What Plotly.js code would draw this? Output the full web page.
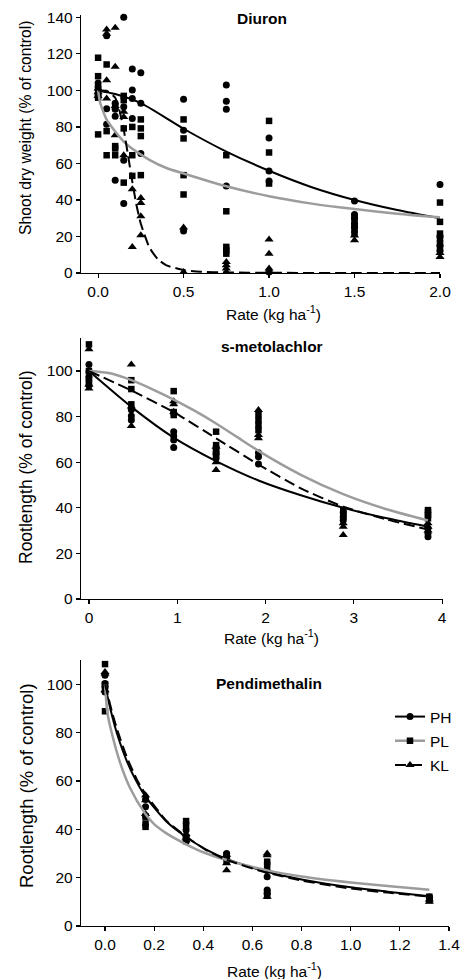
<!DOCTYPE html>
<html><head><meta charset="utf-8">
<script src="https://cdn.plot.ly/plotly-3.0.1.min.js"></script>
<style>html,body{margin:0;padding:0;background:#fff}#chart{width:475px;height:979px}</style>
</head><body><div id="chart"></div>
<script>
// ---------- Diuron ----------
const diuronRates = [0, 0.05, 0.1, 0.15, 0.2, 0.25, 0.5, 0.75, 1.0, 1.5, 2.0];
const diuronPH = [[104,102,96.5,98],[130,90,81.5],[89.7,85.9,50.8,93],[140,61.8,38,91],[111.7,100.2,95.6,84.6],[109.7,92.9,65.4],[95.2,78.2,23],[102.9,94.1,89.7,47.7],[74,55.8,50.4,0.5],[39.5,32,30,27,25],[48.5,20,15,12]];
const diuronPL = [[117.9,107.8,100,96,75.9],[114.2,77.7,64.5],[69.5,68.2,64.5,91],[97,94.7,79.2,49.5],[80,64.5,53.2],[84.1,79.2,75,53.6],[84.1,73.7,53.6,43],[64.5,33.8,14.3,12.4,10.6],[83.3,66,49],[31,28.5,26,23.5,21.5],[38.6,28,21.6,18.8,16.1,13.4]];
const diuronKL = [[101,99,97],[133.4,131,105.6,95.6],[134.3,113,91.4,75.5],[88.3,85.5,64.5],[45.9,14.3],[41.1,38.4,31.1,20.7],[24.9,0.5],[6,4.2,2.4,0.5],[18.3,10.6,2.4,1],[18,20.5],[8.8,11]];
const diuronPHfitX = [0,0.1,0.25,0.5,0.75,1.0,1.25,1.5,1.75,2.0];
const diuronPHfitY = [100,98,93,79,66.5,56,47,40,34.5,30];
const diuronPLfitX = [0,0.01,0.02,0.05,0.1,0.15,0.2,0.3,0.4,0.5,0.75,1.0,1.25,1.5,1.75,2.0];
const diuronPLfitY = [100,94,91,84,77.5,72,68,62,57.5,54.5,47.5,42,38,35,32.5,30.5];
const diuronKLfitX = [0,0.05,0.1,0.125,0.15,0.175,0.2,0.225,0.25,0.3,0.35,0.4,0.5,0.6,0.75,1.0,1.5,2.0];
const diuronKLfitY = [100,99.8,96,89,78.5,64.5,50,37,27,14,7.5,4.2,1.6,0.7,0.3,0.1,0,0];

// ---------- s-metolachlor ----------
const smetRates = [0, 0.48, 0.96, 1.44, 1.92, 2.88, 3.84];
const smetPH = [[102.9,99.7,97.5,93.8],[80.3,78.5,83],[73.4,71.5,69.7,66.5],[63.2,61.7,64],[64.2,62.4,59.2],[34.6,36,38],[31,28.8,27.3]];
const smetPL = [[111.7,96.4,95.3,100],[96,92.1,85.4],[91.2,80.7,82],[73.4,67.5,66,64.6],[78.5,76.3,74.1,81],[39,37.6,36.1],[39,36.8,35.4,38]];
const smetKL = [[109.6,92.4,94],[102.9,84.4,75.9],[86.8,85.4,82.2],[66.8,56.6,60],[82.9,70.5,72],[33.2,31.7,28.1],[33.2,31.7,30]];
const smetPHfitX = [0,0.48,0.96,1.44,1.92,2.4,2.88,3.36,3.84];
const smetPHfitY = [100,84.3,70.8,60.5,52,45.5,40,35.5,31.7];
const smetPLfitX = [0,0.24,0.48,0.72,0.96,1.2,1.44,1.68,1.92,2.4,2.88,3.36,3.84];
const smetPLfitY = [100,99,96,92,87.5,82.5,77,71,65,54.5,46,39.5,34.5];
const smetKLfitX = [0,0.48,0.96,1.44,1.92,2.4,2.88,3.36,3.84];
const smetKLfitY = [100,91.5,82,70.5,59,48.5,40.5,35,30.5];

// ---------- Pendimethalin ----------
const pendRates = [0, 0.165, 0.33, 0.495, 0.66, 1.32];
const pendPH = [[103.7,100.3,98.9,96.8],[52.3,49.3,45.6],[39.7,34.8,37],[30,27.9,28.5],[23.1,20.4,14.9,13.5],[11.4,12]];
const pendPL = [[108.3,97.8,88.8,100],[45.2,42.4,41],[43.4,41.7,36],[29.3,26.6,28],[26.6,25.2,14,12.5],[12.1,10.7,11.5]];
const pendKL = [[104.4,105,97.5],[54.1,52,46.3],[38,35.5,36.5],[23.1,29.5,26],[30,29.3,12.1],[10,11]];
const pendPHfitX = [0,0.01,0.03,0.05,0.09,0.13,0.165,0.25,0.33,0.41,0.495,0.66,0.8,1.0,1.15,1.32];
const pendPHfitY = [100,95,86.4,79.2,67.9,59.4,53.5,43.2,36.8,31.7,27.7,22.4,19.2,16,14.2,12.3];
const pendPLfitX = [0,0.01,0.027,0.06,0.1,0.163,0.2,0.25,0.33,0.4,0.495,0.66,0.8,1.0,1.15,1.32];
const pendPLfitY = [100,88,80,68,57.5,46.5,42.1,38.3,33.8,30.5,27.3,23,20.5,18,16.5,15];
const pendKLfitX = [0,0.01,0.03,0.05,0.09,0.13,0.165,0.25,0.33,0.41,0.495,0.66,0.8,1.0,1.15,1.32];
const pendKLfitY = [100,96,88,81,69.5,60.5,54.5,43.5,37,31.5,27.3,22,18.8,15.5,13.8,12.2];

const seriesNames = ['PH', 'PL', 'KL'];
const panelTitles = ['Diuron', 's-metolachlor', 'Pendimethalin'];
const yTitles = ['Shoot dry weight (% of control)', 'Rootlength (% of control)', 'Rootlength (% of control)'];
const xTitle = 'Rate (kg ha<sup>-1</sup>)';

// ---------- build ----------
const FONT = 'Liberation Sans, Arial, Helvetica, sans-serif';
const GRAY = '#9c9c9c';
const markerStyles = [
  {symbol:'circle', size:7, color:'#000'},
  {symbol:'square', size:6.5, color:'#000'},
  {symbol:'triangle-up', size:8, color:'#000'}
];
const lineStyles = [
  {color:'#000', width:2, dash:'solid', shape:'spline', smoothing:0.7},
  {color:GRAY, width:2.5, dash:'solid', shape:'spline', smoothing:0.7},
  {color:'#000', width:2, dash:'11px,5px', shape:'spline', smoothing:0.5}
];

function flatten(rates, groups){
  const x = [], y = [];
  rates.forEach((r,i)=>groups[i].forEach(v=>{x.push(r); y.push(v);}));
  return {x, y};
}

const panels = [
  {rates:diuronRates, pts:[diuronPH,diuronPL,diuronKL], fits:[[diuronPHfitX,diuronPHfitY],[diuronPLfitX,diuronPLfitY],[diuronKLfitX,diuronKLfitY]]},
  {rates:smetRates, pts:[smetPH,smetPL,smetKL], fits:[[smetPHfitX,smetPHfitY],[smetPLfitX,smetPLfitY],[smetKLfitX,smetKLfitY]]},
  {rates:pendRates, pts:[pendPH,pendPL,pendKL], fits:[[pendPHfitX,pendPHfitY],[pendPLfitX,pendPLfitY],[pendKLfitX,pendKLfitY]]}
];

const traces = [];
panels.forEach((p, pi)=>{
  const xa = pi===0 ? 'x' : 'x'+(pi+1);
  const ya = pi===0 ? 'y' : 'y'+(pi+1);
  p.pts.forEach((g, si)=>{
    const d = flatten(p.rates, g);
    traces.push({type:'scatter', mode:'markers', x:d.x, y:d.y, xaxis:xa, yaxis:ya,
      marker:Object.assign({line:{width:0}}, markerStyles[si]), showlegend:false, cliponaxis:false, hoverinfo:'skip'});
  });
  p.fits.forEach((f, si)=>{
    traces.push({type:'scatter', mode:'lines', x:f[0], y:f[1], xaxis:xa, yaxis:ya,
      line:lineStyles[si], showlegend:false, cliponaxis:false, hoverinfo:'skip'});
  });
});
// legend entries
seriesNames.forEach((n, si)=>{
  traces.push({type:'scatter', mode:'lines+markers', x:[null], y:[null], xaxis:'x3', yaxis:'y3',
    name:n, legendgroup:n, line:lineStyles[si], marker:Object.assign({line:{width:0}}, markerStyles[si]), showlegend:true});
});

const H = 979, W = 475;
const py = v => 1 - v/H, px = v => v/W;
const axBase = {showline:true, linecolor:'#000', linewidth:1.2, ticks:'outside', ticklen:4, tickwidth:1.2,
  tickcolor:'#000', showgrid:false, zeroline:false, fixedrange:true,
  tickfont:{family:FONT, size:15.5, color:'#000'}};

function ann(text, x, y, size, extra){
  return Object.assign({text:text, x:px(x), y:py(y), xref:'paper', yref:'paper', xanchor:'center', yanchor:'middle',
    showarrow:false, font:{size:size, family:FONT, color:'#000'}}, extra || {});
}

const layout = {
  width:W, height:H, margin:{l:0,r:0,t:0,b:0}, paper_bgcolor:'#fff', plot_bgcolor:'rgba(0,0,0,0)',
  font:{family:FONT, color:'#000'},
  showlegend:true,
  legend:{x:px(390), y:py(700), xanchor:'left', yanchor:'top', bgcolor:'rgba(0,0,0,0)',
    font:{family:FONT, size:15.5, color:'#000'}, tracegroupgap:1, traceorder:'grouped'},
  xaxis: Object.assign({}, axBase, {domain:[px(81), px(440)], range:[-0.1, 2.0], tickvals:[0,0.5,1,1.5,2], tickformat:'.1f', anchor:'y'}),
  yaxis: Object.assign({}, axBase, {domain:[py(273), py(15)], range:[0, 141.3], tickvals:[0,20,40,60,80,100,120,140], anchor:'x'}),
  xaxis2: Object.assign({}, axBase, {domain:[px(81), px(443)], range:[-0.09, 4.01], tickvals:[0,1,2,3,4], anchor:'y2'}),
  yaxis2: Object.assign({}, axBase, {domain:[py(599), py(338)], range:[0, 114.5], tickvals:[0,20,40,60,80,100], anchor:'x2'}),
  xaxis3: Object.assign({}, axBase, {domain:[px(81), px(449)], range:[-0.0977, 1.4], tickvals:[0,0.2,0.4,0.6,0.8,1.0,1.2,1.4], tickformat:'.1f', anchor:'y3'}),
  yaxis3: Object.assign({}, axBase, {domain:[py(926), py(660)], range:[0, 110], tickvals:[0,20,40,60,80,100], anchor:'x3'}),
  annotations: [
    ann('<b>'+panelTitles[0]+'</b>', 262, 18, 15.5),
    ann('<b>'+panelTitles[1]+'</b>', 271.5, 346, 15.5),
    ann('<b>'+panelTitles[2]+'</b>', 269, 683, 15.5),
    ann(yTitles[0], 26, 128, 15.7, {textangle:-90}),
    ann(yTitles[1], 26, 467, 17.5, {textangle:-90}),
    ann(yTitles[2], 26, 786, 18.5, {textangle:-90}),
    ann(xTitle, 273, 313, 15.5),
    ann(xTitle, 271, 637, 15.5),
    ann(xTitle, 274.5, 970, 15.5)
  ]
};

Plotly.newPlot('chart', traces, layout, {displayModeBar:false, staticPlot:true});
</script></body></html>
